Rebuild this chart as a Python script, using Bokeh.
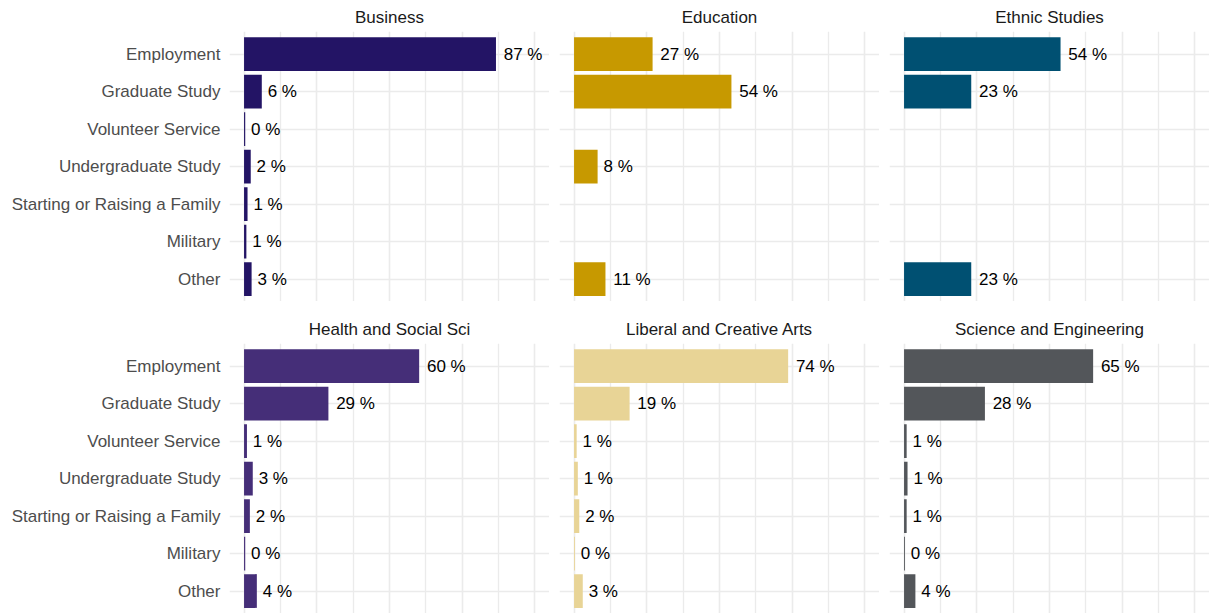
from bokeh.plotting import figure
from bokeh.layouts import gridplot
from bokeh.models import Range1d, FixedTicker, ColumnDataSource
from bokeh.embed import file_html
from bokeh.resources import INLINE

categories = ["Employment", "Graduate Study", "Volunteer Service", "Undergraduate Study",
              "Starting or Raising a Family", "Military", "Other"]

panels = ["Business", "Education", "Ethnic Studies",
          "Health and Social Sci", "Liberal and Creative Arts", "Science and Engineering"]

business = [86.6, 6.1, 0.4, 2.3, 1.2, 0.8, 2.6]
education = [27.0, 54.1, None, 8.1, None, None, 10.8]
ethnic_studies = [53.8, 23.1, None, None, None, None, 23.1]
health_social = [60.2, 29.0, 1.0, 3.0, 2.0, 0.4, 4.4]
liberal_arts = [73.6, 19.1, 0.9, 1.3, 1.8, 0.3, 3.0]
science_eng = [65.0, 27.8, 0.9, 1.2, 0.9, 0.3, 3.9]

series = [business, education, ethnic_studies, health_social, liberal_arts, science_eng]
colors = ["#231465", "#C79900", "#005072", "#452E78", "#E8D496", "#53565A"]

FONT = "Liberation Sans"
FS = 17
GRID = "#EBEBEB"

n = len(categories)
ypos = {c: n - i for i, c in enumerate(categories)}
char_w = {"%": 0.889, " ": 0.278}


def text_width(s):
    return sum(char_w.get(ch, 0.556) for ch in s) * FS


def make_panel(idx):
    row, col = divmod(idx, 3)
    vals = series[idx]
    p = figure(frame_width=320, frame_height=270,
               x_range=Range1d(-5, 105), y_range=Range1d(0.4, n + 0.6),
               output_backend="svg", toolbar_location=None, tools="")
    p.min_border_top = 31 if row == 0 else 42
    p.min_border_bottom = 0
    p.min_border_right = 0
    p.min_border_left = 229 if col == 0 else 10
    p.outline_line_color = None
    p.background_fill_color = "white"
    p.border_fill_color = "white"

    p.title.text = panels[idx]
    p.title.align = "center"
    p.title.text_font = FONT
    p.title.text_font_size = f"{FS}px"
    p.title.text_font_style = "normal"
    p.title.text_color = "#1A1A1A"
    p.title.standoff = 10
    p.title.offset = 0

    p.xaxis.visible = False
    p.xgrid.ticker = FixedTicker(ticks=[0, 25, 50, 75, 100], minor_ticks=[12.5, 37.5, 62.5, 87.5])
    p.xgrid.grid_line_color = GRID
    p.xgrid.grid_line_width = 1.6
    p.xgrid.minor_grid_line_color = GRID
    p.xgrid.minor_grid_line_width = 1.3

    yt = list(range(1, n + 1))
    p.ygrid.ticker = FixedTicker(ticks=yt)
    p.ygrid.grid_line_color = GRID
    p.ygrid.grid_line_width = 1.6

    if col == 0:
        ax = p.yaxis[0]
        ax.ticker = FixedTicker(ticks=yt)
        ax.major_label_overrides = {ypos[c]: c for c in categories}
        ax.axis_line_color = None
        ax.major_tick_line_color = None
        ax.minor_tick_line_color = None
        ax.major_tick_out = 0
        ax.major_tick_in = 0
        ax.major_label_standoff = 9
        ax.major_label_text_font = FONT
        ax.major_label_text_font_size = f"{FS}px"
        ax.major_label_text_color = "#4D4D4D"
    else:
        p.yaxis.visible = False

    ys, xs, labels, offs = [], [], [], []
    for c, v in zip(categories, vals):
        if v is None:
            continue
        ys.append(ypos[c])
        xs.append(v)
        lab = f"{round(v)} %"
        labels.append(lab)
        offs.append(0.2 * text_width(lab))
    src = ColumnDataSource(dict(y=ys, x=xs, label=labels, off=offs))
    p.hbar(y="y", left=0, right="x", height=0.9, source=src,
           fill_color=colors[idx], line_color=None)
    p.text(x="x", y="y", text="label", x_offset="off", source=src,
           text_baseline="middle", text_align="left",
           text_font_size=f"{FS}px", text_color="black",
           text_font={"value": FONT})
    return p


figs = [make_panel(i) for i in range(6)]
grid = gridplot([figs[:3], figs[3:]], toolbar_location=None)

open("out.html", "w").write(file_html(grid, INLINE))
